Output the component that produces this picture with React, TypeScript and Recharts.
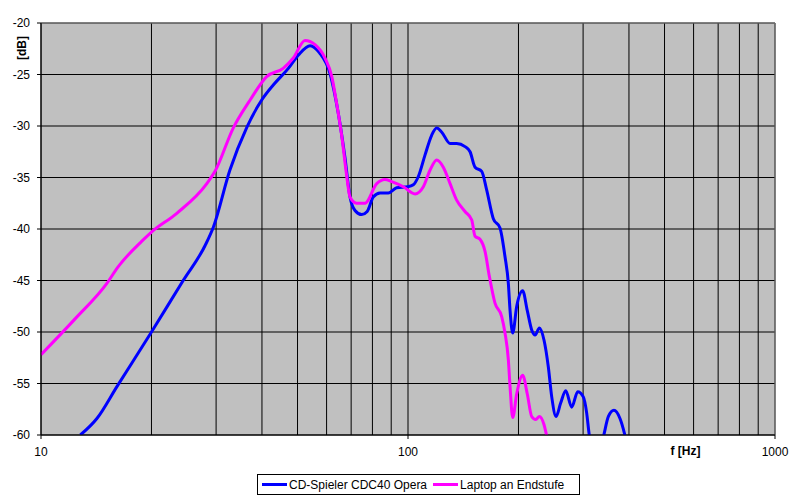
import { LineChart, Line, XAxis, YAxis, CartesianGrid, ReferenceLine } from "recharts";

type Pt = { f: number; db: number };

// CD-Spieler CDC40 Opera (Hz, dB) — values below -60 are clipped by the axis
const cdFreq = [
  12.8, 14.2, 16.1, 20, 24.4, 28.0, 29.5, 32.7, 36.4, 39.9, 43.0, 47.2, 50.3, 54.1, 57.4, 61.3,
  64.6, 67.3, 69.5, 71.7, 74.8, 77.4, 80.4, 83.9, 88.4, 93.1, 99.8, 103.4, 106.7, 111.3, 116.0,
  119.7, 123.6, 130.2, 135.7, 143.0, 147.6, 152.3, 158.8, 163.8, 170.8, 178.1, 183.8, 187.7,
  189.7, 192.9, 197.8, 205.3, 211.3, 217.3, 222.0, 228.0, 234.8, 241.2, 246.4, 253.2, 260.6,
  269.0, 279.3, 290.0, 300.4, 306.9, 311.3, 318, 326, 335, 342.7, 351.6, 364.1, 378.1, 388.5,
  400, 430, 480,
];
const cdDb = [
  -60.0, -58.4, -55.3, -50.0, -45.0, -41.6, -39.8, -34.3, -30.1, -27.5, -26.0, -24.4, -23.1, -22.2,
  -22.9, -24.9, -28.8, -33.0, -36.9, -38.2, -38.6, -38.3, -36.9, -36.5, -36.5, -36.0, -35.9,
  -35.7, -34.9, -32.8, -30.9, -30.2, -30.6, -31.7, -31.7, -32.0, -32.5, -34.0, -34.4, -36.2,
  -39.0, -39.9, -42.7, -45.3, -47.9, -50.1, -47.5, -46.0, -47.9, -49.8, -50.3, -49.6, -50.8,
  -53.4, -56.3, -58.2, -56.9, -55.7, -57.3, -55.8, -56.3, -57.9, -59.8, -61.5, -62.2, -61.5,
  -59.8, -58.2, -57.6, -58.4, -59.8, -62.0, -65.0, -68.0,
];

// Laptop an Endstufe (Hz, dB)
const lapFreq = [
  10.0, 12.4, 15.1, 16.2, 18.8, 20.0, 23.4, 28.3, 29.8, 33.4, 37.1, 41.2, 45.7, 48.7, 52.4, 55.8,
  59.4, 62.0, 63.9, 66.0, 68.1, 69.5, 72.4, 76.3, 82.2, 86.5, 90.3, 97.1, 104.5, 110.1, 114.8,
  119.7, 124.8, 130.2, 135.7, 143.0, 149.1, 152.3, 157.1, 162.2, 166.6, 172.6, 180.0, 183.8,
  187.7, 189.7, 192.9, 197.8, 205.3, 211.3, 217.3, 222.9, 228.0, 234.8, 238.8, 250, 280,
];
const lapDb = [
  -52.2, -48.7, -45.3, -43.7, -41.2, -40.3, -38.5, -35.6, -34.4, -30.2, -27.5, -25.2, -24.4,
  -23.4, -21.7, -22.1, -23.4, -25.2, -27.8, -31.0, -34.9, -36.9, -37.5, -37.5, -35.6, -35.2,
  -35.4, -35.9, -36.6, -35.9, -34.3, -33.3, -34.0, -35.6, -37.2, -38.3, -39.1, -40.7, -41.0,
  -42.2, -44.6, -47.2, -48.5, -50.1, -52.7, -55.3, -58.3, -56.0, -54.2, -56.0, -58.2, -58.5,
  -58.2, -59.0, -60.1, -63.0, -68.0,
];

const xTicks = [
  10, 20, 30, 40, 50, 60, 70, 80, 90, 100, 200, 300, 400, 500, 600, 700, 800, 900, 1000,
];
const xLabels = [10, 100, 1000];
const yTicks = [-60, -55, -50, -45, -40, -35, -30, -25, -20];

const cdData: Pt[] = cdFreq.map((f, i) => ({ f, db: cdDb[i] }));
const lapData: Pt[] = lapFreq.map((f, i) => ({ f, db: lapDb[i] }));

const font = "'Liberation Sans', Arial, sans-serif";

function XTick(props: any) {
  const { x, y, payload } = props;
  if (!xLabels.includes(payload.value)) return null;
  return (
    <g>
      <line x1={x} x2={x} y1={y - 12} y2={y - 8} stroke="#000" />
      <text x={x} y={y} dy="0.71em" textAnchor="middle" fontSize={12} fill="#000" fontFamily={font}>
        {payload.value}
      </text>
    </g>
  );
}

function LegendItem({ color, label }: { color: string; label: string }) {
  return (
    <span style={{ display: "inline-flex", alignItems: "center", marginRight: 6 }}>
      <span style={{ display: "inline-block", width: 25, height: 3, background: color, marginRight: 2 }} />
      <span>{label}</span>
    </span>
  );
}

export default function App() {
  return (
    <div style={{ position: "relative", width: 800, height: 500, background: "#fff", fontFamily: font }}>
      <style>{"body{margin:0}"}</style>
      <LineChart
        width={800}
        height={500}
        margin={{ top: 23, right: 25, left: 0, bottom: 35 }}
        style={{ fontFamily: font }}
      >
        <CartesianGrid fill="#C0C0C0" stroke="#000" strokeOpacity={1} />
        <XAxis
          dataKey="f"
          type="number"
          scale="log"
          domain={[10, 1000]}
          ticks={xTicks}
          allowDataOverflow
          height={30}
          tickLine={false}
          tickSize={4}
          tickMargin={8}
          axisLine={{ stroke: "#000" }}
          tick={<XTick />}
          interval={0}
          label={{
            content: ({ viewBox }: any) => (
              <text
                x={viewBox.x + viewBox.width * 0.878}
                y={viewBox.y + 20}
                textAnchor="middle"
                fontSize={12}
                fontWeight="bold"
                fill="#000"
                fontFamily={font}
              >
                f [Hz]
              </text>
            ),
          }}
        />
        <YAxis
          type="number"
          domain={[-60, -20]}
          ticks={yTicks}
          allowDataOverflow
          width={41}
          tickSize={4}
          tickMargin={7}
          interval={0}
          tickLine={{ stroke: "#000" }}
          axisLine={{ stroke: "#000" }}
          tick={{ fill: "#000", fontSize: 12, fontFamily: font }}
          label={{
            content: ({ viewBox }: any) => (
              <text
                x={viewBox.x + 22}
                y={viewBox.y + 25}
                textAnchor="middle"
                dominantBaseline="central"
                fontSize={12}
                fontWeight="bold"
                fill="#000"
                fontFamily={font}
                transform={`rotate(-90, ${viewBox.x + 22}, ${viewBox.y + 25})`}
              >
                [dB]
              </text>
            ),
          }}
        />
        <ReferenceLine y={-20} stroke="#808080" />
        <ReferenceLine x={1000} stroke="#808080" />
        <Line
          data={cdData}
          dataKey="db"
          type="monotone"
          stroke="#0000FF"
          strokeWidth={3}
          dot={false}
          isAnimationActive={false}
          name="CD-Spieler CDC40 Opera"
        />
        <Line
          data={lapData}
          dataKey="db"
          type="monotone"
          stroke="#FF00FF"
          strokeWidth={3}
          dot={false}
          isAnimationActive={false}
          name="Laptop an Endstufe"
        />
      </LineChart>
      <div
        style={{
          position: "absolute",
          left: 257,
          top: 474,
          width: 323,
          height: 21,
          border: "1px solid #000",
          background: "#fff",
          fontSize: 12,
          display: "flex",
          alignItems: "center",
          paddingLeft: 4,
          boxSizing: "border-box",
          whiteSpace: "nowrap",
        }}
      >
        <LegendItem color="#0000FF" label="CD-Spieler CDC40 Opera" />
        <LegendItem color="#FF00FF" label="Laptop an Endstufe" />
      </div>
    </div>
  );
}
